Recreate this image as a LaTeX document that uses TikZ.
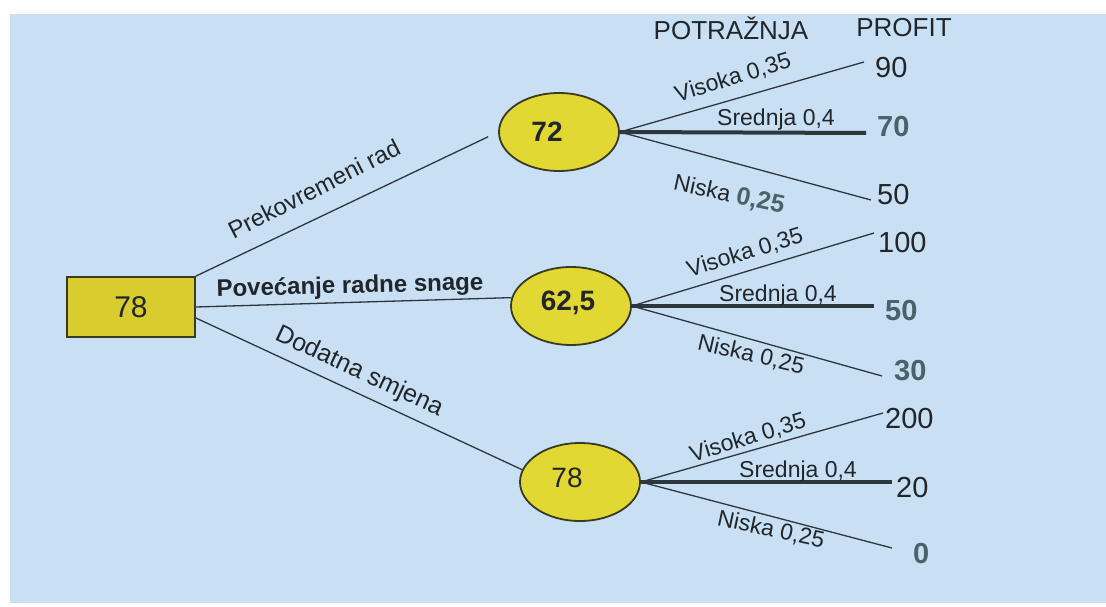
\documentclass[tikz,border=0pt]{standalone}
\usepackage{fontspec}
\setmainfont{Liberation Sans}
\usetikzlibrary{shapes.geometric}
\definecolor{bgblue}{RGB}{200,223,244}
\definecolor{yel}{RGB}{226,216,52}
\definecolor{boxyel}{RGB}{216,204,46}
\definecolor{edgec}{RGB}{58,58,30}
\definecolor{ink}{RGB}{34,38,42}
\definecolor{tealnum}{RGB}{74,98,106}
\definecolor{linec}{RGB}{45,55,62}
\begin{document}
\begin{tikzpicture}[x=1pt,y=1pt,
  chance/.style={ellipse, draw=edgec, line width=1.8pt, fill=yel,
    minimum width=120pt, minimum height=78pt, inner sep=0pt, text=ink},
  decision/.style={rectangle, draw=edgec, line width=1.8pt, fill=boxyel,
    minimum width=128pt, minimum height=60pt, inner sep=0pt, text=ink,
    font=\fontsize{30}{30}\selectfont},
  conn/.style={draw=linec, line width=1.3pt},
  midbranch/.style={draw=linec, line width=4pt},
  lbl/.style={text=ink, inner sep=0pt, font=\fontsize{23}{23}\selectfont},
  biglbl/.style={text=ink, inner sep=0pt, font=\fontsize{24}{24}\selectfont},
  hdr/.style={text=ink, inner sep=0pt, font=\fontsize{26}{26}\selectfont},
  num/.style={text=ink, inner sep=0pt, anchor=west, font=\fontsize{29}{29}\selectfont},
  bnum/.style={text=tealnum, inner sep=0pt, anchor=west, font=\fontsize{29}{29}\bfseries\selectfont},
  etxt/.style={text=ink, inner sep=0pt, font=\fontsize{28}{28}\selectfont}
]
\useasboundingbox (0,0) rectangle (1106,-607);
\fill[white] (0,0) rectangle (1106,-607);
\fill[bgblue] (10,-14) rectangle (1106,-603);

% header
\node[hdr] (hpot) at (731,-28) {POTRAŽNJA};
\node[hdr] (hpro) at (904,-28) {PROFIT};

% decision node
\node[decision] (d) at (131,-307) {78};

% chance nodes
\node[chance] (e1) at (559,-132) {};
\node[chance] (e2) at (571,-306) {};
\node[chance] (e3) at (580,-482) {};
\node[etxt, font=\fontsize{28}{28}\bfseries\selectfont] (t1) at ([xshift=-12pt]e1.center) {72};
\node[etxt, font=\fontsize{28}{28}\bfseries\selectfont] (t2) at ([xshift=-3pt,yshift=3pt]e2.center) {62,5};
\node[etxt] (t3) at ([xshift=-13pt,yshift=4pt]e3.center) {78};

% left connectors
\draw[conn, shorten >=11pt] (d.north east) -- (e1.west);
\draw[conn] (d.east) -- (e2.172);
\draw[conn] ([yshift=-11pt]d.east) -- (e3.168);

\node[biglbl, rotate=27] (l1) at (314,-189) {Prekovremeni rad};
\node[biglbl, font=\fontsize{24}{24}\bfseries\selectfont, rotate=1.5] (l2) at (350,-287) {Povećanje radne snage};
\node[biglbl, font=\fontsize{25}{25}\selectfont, rotate=-25] (l3) at (359,-372) {Dodatna smjena};

% profit values
\node[num]  (n90)  at (875,-68)  {90};
\node[bnum] (n70)  at (877,-127) {70};
\node[num]  (n50a) at (877,-195) {50};
\node[num]  (n100) at (878,-243) {100};
\node[bnum] (n50b) at (885,-311) {50};
\node[bnum] (n30)  at (894,-371) {30};
\node[num]  (n200) at (885,-419) {200};
\node[num]  (n20)  at (896,-488) {20};
\node[bnum] (n0)   at (913,-554) {0};

% branch end points
\coordinate (a1) at (864,-62);
\coordinate (a2) at (866,-133);
\coordinate (a3) at (871,-200);
\coordinate (b1) at (874,-233);
\coordinate (b2) at (874,-306);
\coordinate (b3) at (882,-376);
\coordinate (c1) at (883,-413);
\coordinate (c2) at (892,-482);
\coordinate (c3) at (892,-548);

% branches
\draw[conn] (e1.east) -- (a1);
\draw[midbranch] (e1.east) -- (a2);
\draw[conn] (e1.east) -- (a3);
\draw[conn] (e2.east) -- (b1);
\draw[midbranch] (e2.east) -- (b2);
\draw[conn] (e2.east) -- (b3);
\draw[conn] (e3.east) -- (c1);
\draw[midbranch] (e3.east) -- (c2);
\draw[conn] (e3.east) -- (c3);

% branch labels
\node[lbl, rotate=17] (v1) at (733,-78) {Visoka 0,35};
\node[lbl] (s1) at (776,-120) {Srednja 0,4};
\node[lbl, rotate=-12] (k1) at (729,-195) {Niska {\fontsize{25}{25}\bfseries\color{tealnum}0,25}};
\node[lbl, rotate=17] (v2) at (745,-253) {Visoka 0,35};
\node[lbl] (s2) at (778,-296) {Srednja 0,4};
\node[lbl, rotate=-13] (k2) at (751,-355) {Niska 0,25};
\node[lbl, rotate=17] (v3) at (748,-438) {Visoka 0,35};
\node[lbl] (s3) at (798,-472) {Srednja 0,4};
\node[lbl, rotate=-12] (k3) at (771,-530) {Niska 0,25};
\end{tikzpicture}
\end{document}
